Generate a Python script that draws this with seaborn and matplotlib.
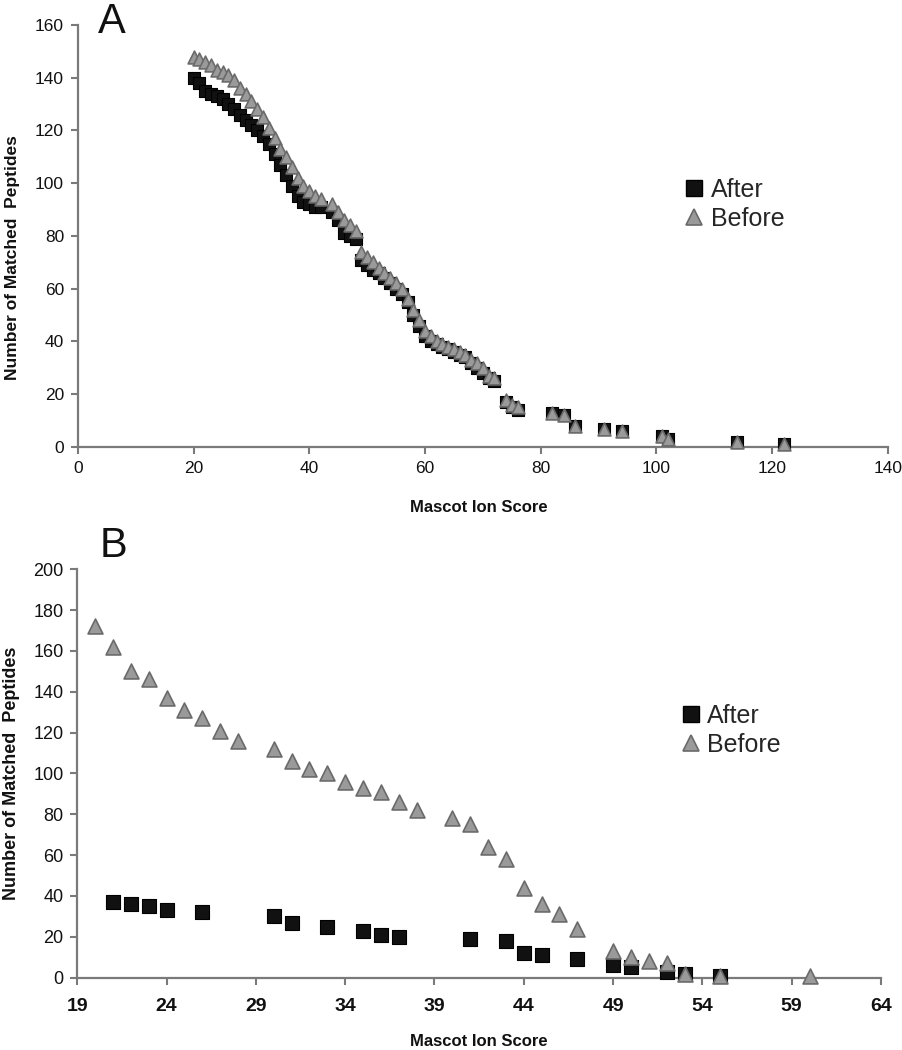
import numpy as np
import pandas as pd
import matplotlib
matplotlib.use("Agg")
import matplotlib.pyplot as plt
import seaborn as sns
from matplotlib.lines import Line2D

sns.set_theme(style="ticks")
plt.rcParams["font.family"] = ["Liberation Sans", "DejaVu Sans"]

# ---------------- data ----------------
series_names = ["After", "Before"]

# Panel A
a_after_score = [20, 21, 22, 23, 24, 25, 26, 27, 28, 29, 30, 31, 32, 33, 34, 35, 36, 37, 38, 39,
                 40, 41, 42, 44, 45, 46, 47, 48, 49, 50, 51, 52, 53, 54, 55, 56, 57, 58, 59, 60,
                 61, 62, 63, 64, 65, 66, 67, 68, 69, 70, 71, 72, 74, 75, 76, 82, 84, 86, 91, 94,
                 101, 102, 114, 122]
a_after_count = [140, 138, 135, 134, 133, 132, 130, 128, 126, 124, 122, 120, 118, 115, 111, 107, 103, 99, 95, 93,
                 92, 91, 91, 89, 86, 81, 80, 79, 71, 69, 67, 66, 64, 62, 60, 58, 55, 50, 46, 42,
                 40, 39, 38, 37, 36, 35, 34, 32, 30, 28, 26, 25, 17, 15, 14, 13, 12, 8, 7, 6,
                 4, 3, 2, 1]
a_before_score = [20, 21, 22, 23, 24, 25, 26, 27, 28, 29, 30, 31, 32, 33, 34, 35, 36, 37, 38, 39,
                  40, 41, 42, 44, 45, 46, 47, 48, 49, 50, 51, 52, 53, 54, 55, 56, 57, 58, 59, 60,
                  61, 62, 63, 64, 65, 66, 67, 68, 69, 70, 71, 72, 74, 75, 76, 82, 84, 86, 91, 94,
                  101, 102, 114, 122]
a_before_count = [148, 147, 146, 145, 143, 142, 141, 139, 136, 134, 131, 128, 125, 121, 117, 113, 110, 106, 102, 99,
                  97, 95, 94, 92, 89, 86, 84, 82, 74, 72, 70, 68, 66, 64, 62, 60, 56, 52, 48, 44,
                  42, 40, 39, 38, 37, 36, 35, 33, 32, 30, 27, 26, 18, 16, 15, 13, 12, 8, 7, 6,
                  4, 3, 2, 1]

# Panel B
b_after_score = [21, 22, 23, 24, 26, 30, 31, 33, 35, 36, 37, 41, 43, 44, 45, 47, 49, 50, 52, 53, 55]
b_after_count = [37, 36, 35, 33, 32, 30, 27, 25, 23, 21, 20, 19, 18, 12, 11, 9, 6, 5, 3, 2, 1]
b_before_score = [20, 21, 22, 23, 24, 25, 26, 27, 28, 30, 31, 32, 33, 34, 35, 36, 37, 38, 40, 41,
                  42, 43, 44, 45, 46, 47, 49, 50, 51, 52, 53, 55, 60]
b_before_count = [172, 162, 150, 146, 137, 131, 127, 121, 116, 112, 106, 102, 100, 96, 93, 91, 86, 82, 78, 75,
                  64, 58, 44, 36, 31, 24, 13, 10, 8, 7, 2, 1, 1]

a_xticks = [0, 20, 40, 60, 80, 100, 120, 140]
a_yticks = [0, 20, 40, 60, 80, 100, 120, 140, 160]
b_xticks = [19, 24, 29, 34, 39, 44, 49, 54, 59, 64]
b_yticks = [0, 20, 40, 60, 80, 100, 120, 140, 160, 180, 200]

x_title = "Mascot Ion Score"
y_title = "Number of Matched  Peptides"

# ---------------- styling ----------------
SQ_FACE, SQ_EDGE = "#111111", "#000000"
TR_FACE, TR_EDGE = "#9a9a9a", "#6a6a6a"
AXIS_C = "#7a7a7a"

fig = plt.figure(figsize=(9.03, 10.5), dpi=100)
axA = fig.add_axes([0.08627, 0.5743, 0.8968, 0.4019])
axB = fig.add_axes([0.0856, 0.0689, 0.8900, 0.3890])


def draw(ax, xs_a, ys_a, xs_b, ys_b, s_sq, s_tr):
    sns.scatterplot(x=xs_a, y=ys_a, marker="s", s=s_sq, color=SQ_FACE,
                    edgecolor=SQ_EDGE, linewidth=0.8, ax=ax, zorder=3, clip_on=False)
    sns.scatterplot(x=xs_b, y=ys_b, marker="^", s=s_tr, color=TR_FACE,
                    edgecolor=TR_EDGE, linewidth=1.2, ax=ax, zorder=4, clip_on=False)


draw(axA, a_after_score, a_after_count, a_before_score, a_before_count, 75, 85)
draw(axB, b_after_score, b_after_count, b_before_score, b_before_count, 100, 115)

for ax in (axA, axB):
    sns.despine(ax=ax)
    for sp in ("left", "bottom"):
        ax.spines[sp].set_color(AXIS_C)
        ax.spines[sp].set_linewidth(1.6)
    ax.tick_params(axis="both", direction="out", length=5, width=1.5,
                   color=AXIS_C, labelcolor="#111111", pad=5)

axA.set_xlim(0, 140)
axA.set_ylim(0, 160)
axA.set_xticks(a_xticks)
axA.set_yticks(a_yticks)
axA.tick_params(labelsize=12.5)

axB.set_xlim(19, 64)
axB.set_ylim(0, 200)
axB.set_xticks(b_xticks)
axB.set_yticks(b_yticks)
axB.tick_params(axis="y", labelsize=13)
axB.tick_params(axis="x", labelsize=14, pad=10)
for t in axB.get_xticklabels():
    t.set_fontweight("bold")

for ax, ylab_y, fs in ((axA, 0.45, 12.5), (axB, 0.5, 13)):
    ax.set_xlabel(x_title, fontsize=12, fontweight="bold", color="#111111")
    ax.set_ylabel(y_title, fontsize=fs, fontweight="bold", color="#111111")

axA.yaxis.set_label_coords(-0.071, 0.45)
axB.yaxis.set_label_coords(-0.0715, 0.5)
axA.xaxis.set_label_coords(0.495, -0.125)
axB.xaxis.set_label_coords(0.50, -0.137)

handles = [
    Line2D([], [], linestyle="none", marker="s", markersize=11, markerfacecolor=SQ_FACE,
           markeredgecolor=SQ_EDGE, label=series_names[0]),
    Line2D([], [], linestyle="none", marker="^", markersize=12, markerfacecolor=TR_FACE,
           markeredgecolor=TR_EDGE, markeredgewidth=1.2, label=series_names[1]),
]
for ax, anchor in ((axA, (0.735, 0.575)), (axB, (0.737, 0.605))):
    ax.legend(handles=handles, loc="center left", bbox_to_anchor=anchor, frameon=False,
              fontsize=18, handlelength=0.7, handletextpad=0.3, labelspacing=0.2,
              borderpad=0.0)

fig.text(98 / 903, 1 - 33 / 1050, "A", fontsize=30, ha="left", va="baseline", color="#111111")
fig.text(100 / 903, 1 - 557 / 1050, "B", fontsize=30, ha="left", va="baseline", color="#111111")

fig.savefig("out.png", dpi=100, facecolor="white")
